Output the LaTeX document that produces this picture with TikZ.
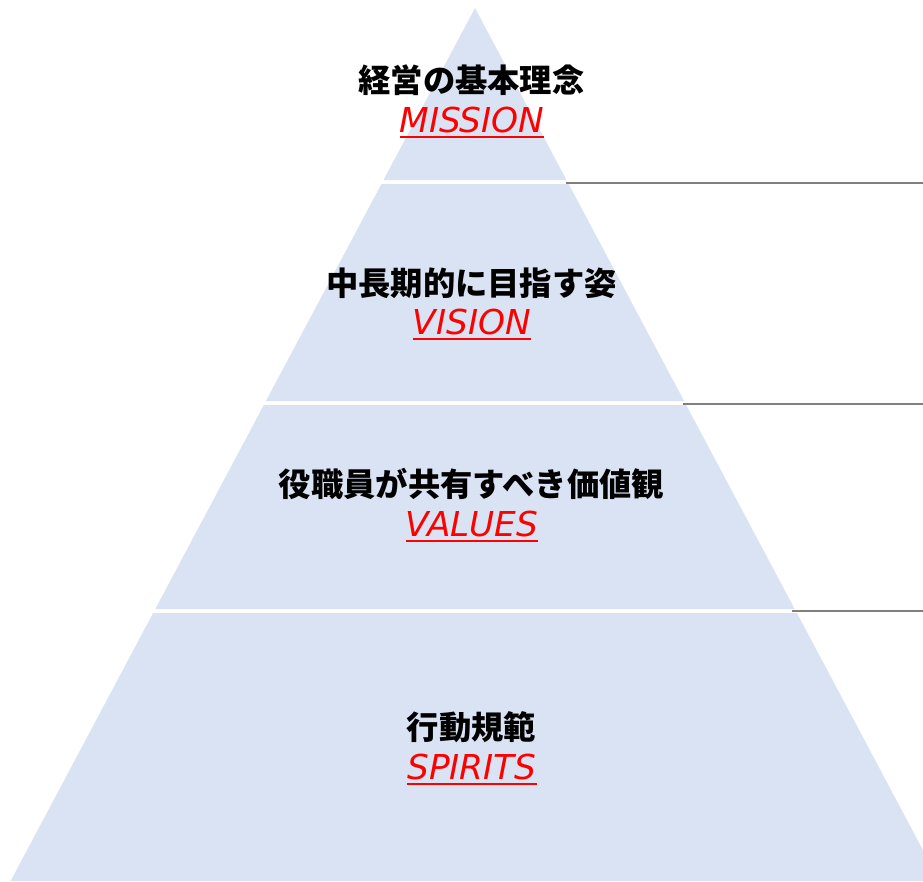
\documentclass[tikz,border=0pt]{standalone}
\usepackage{fontspec}
\newfontfamily\jpfont{Noto Sans CJK JP}
\newfontfamily\enfont{DejaVu Sans}
\definecolor{bandfill}{HTML}{DAE3F3}
\definecolor{sepgray}{HTML}{808080}
\newcommand\redul[1]{\setbox0=\hbox{#1}\rlap{\color{red}\rule[-5.8pt]{\wd0}{2.3pt}}\box0}
\tikzset{
  band/.style={fill=bandfill, draw=none},
  sepline/.style={draw=sepgray, line width=2.2pt},
  jptext/.style={anchor=base, inner sep=0pt, font=\jpfont\bfseries\fontsize{32.3}{36}\selectfont, text=black},
  entext/.style={anchor=base, inner sep=0pt, font=\enfont\itshape\fontsize{34.3}{38}\selectfont, text=red},
}
\begin{document}
\begin{tikzpicture}[x=1pt,y=-1pt]
\useasboundingbox (0,0) rectangle (923,881);
\clip (0,0) rectangle (923,881);
% bands
\fill[band] (475,8) -- (566.5,180) -- (383.5,180) -- cycle;
\fill[band] (381.4,184) -- (568.6,184) -- (684.1,401) -- (265.9,401) -- cycle;
\fill[band] (263.8,405) -- (686.2,405) -- (794.7,609) -- (155.3,609) -- cycle;
\fill[band] (153.1,613) -- (796.9,613) -- (939.4,881) -- (10.6,881) -- cycle;
% separator lines
\coordinate (s1a) at (566,183);   \coordinate (s1b) at (923,183);
\coordinate (s2a) at (683,404);   \coordinate (s2b) at (923,404);
\coordinate (s3a) at (792,611);   \coordinate (s3b) at (923,611);
\draw[sepline] (s1a) -- (s1b);
\draw[sepline] (s2a) -- (s2b);
\draw[sepline] (s3a) -- (s3b);
% texts
\node[jptext] (j1) at (471.5,92) {経営の基本理念};
\node[entext] (e1) at (472,132) {\redul{MISSION}};
\node[jptext] (j2) at (471.5,295) {中長期的に目指す姿};
\node[entext] (e2) at (472,334) {\redul{VISION}};
\node[jptext] (j3) at (471.5,496) {役職員が共有すべき価値観};
\node[entext] (e3) at (472,536) {\redul{VALUES}};
\node[jptext] (j4) at (471.5,739) {行動規範};
\node[entext] (e4) at (472,779) {\redul{SPIRITS}};
\end{tikzpicture}
\end{document}
